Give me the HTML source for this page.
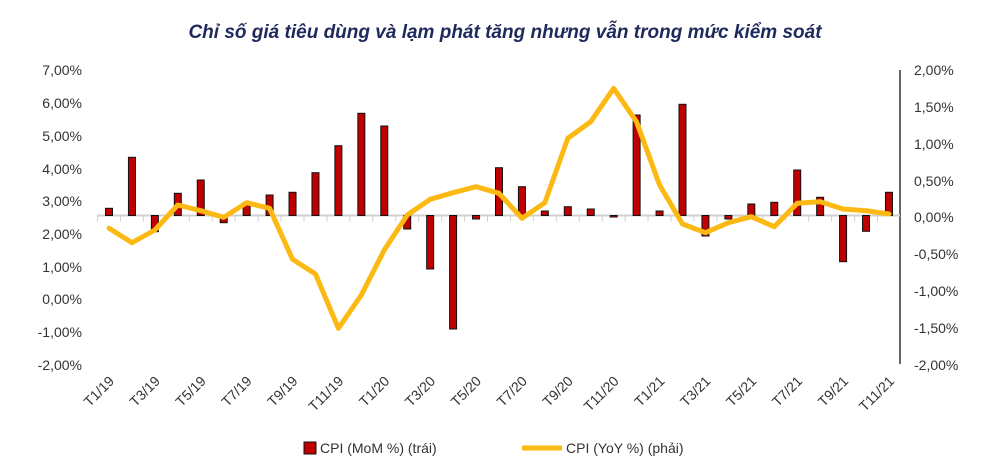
<!DOCTYPE html>
<html><head><meta charset="utf-8"><style>
body{margin:0;background:#fff;}
svg{display:block;font-family:"Liberation Sans",sans-serif;}
</style></head><body>
<svg width="1000" height="474" viewBox="0 0 1000 474">
<text x="505" y="38" text-anchor="middle" font-size="19" font-weight="bold" font-style="italic" fill="#1f2a5c">Chỉ số giá tiêu dùng và lạm phát tăng nhưng vẫn trong mức kiểm soát</text>
<g font-size="14" fill="#333" text-anchor="end">
<text x="82" y="75">7,00%</text><text x="82" y="108">6,00%</text><text x="82" y="141">5,00%</text><text x="82" y="174">4,00%</text><text x="82" y="206">3,00%</text><text x="82" y="239">2,00%</text><text x="82" y="272">1,00%</text><text x="82" y="304">0,00%</text><text x="82" y="337">-1,00%</text><text x="82" y="370">-2,00%</text>
</g>
<g font-size="14" fill="#333">
<text x="914" y="75">2,00%</text><text x="914" y="112">1,50%</text><text x="914" y="149">1,00%</text><text x="914" y="186">0,50%</text><text x="914" y="222">0,00%</text><text x="914" y="259">-0,50%</text><text x="914" y="296">-1,00%</text><text x="914" y="333">-1,50%</text><text x="914" y="370">-2,00%</text>
</g>
<line x1="900" y1="70" x2="900" y2="364" stroke="#000" stroke-width="1.2"/>
<line x1="97" y1="215.5" x2="900" y2="215.5" stroke="#d0d0d0" stroke-width="2"/>
<g id="ticks" stroke="#d0d0d0" stroke-width="1"></g>
<g id="bars" fill="#c00000" stroke="#111" stroke-width="1"></g>
<polyline id="ln" fill="none" stroke="#fdb913" stroke-width="5" stroke-linejoin="round" stroke-linecap="round"/>
<g id="xl" font-size="14" fill="#333" text-anchor="end"></g>
<rect x="304" y="442" width="12" height="12" fill="#c00000" stroke="#111" stroke-width="1"/>
<text x="320" y="453" font-size="14" fill="#333">CPI (MoM %) (trái)</text>
<line x1="522" y1="448" x2="562" y2="448" stroke="#fdb913" stroke-width="5"/>
<text x="566" y="453" font-size="14" fill="#333">CPI (YoY %) (phải)</text>
</svg>
<script>
var b=[208.3,157.3,231.7,193.3,180,222.7,202.7,195,192.3,172.7,145.7,113.3,126,229,269,329,219,167.7,186.7,211,206.7,209,217,115,211,104.3,236,219,204,202.3,170,197.3,261.7,231.3,192.3];
var l=[228.3,242.7,230,205,210.7,217.3,202.7,208.3,259.3,274,328.3,295,250,215,199.3,192.7,186.7,193.3,218.3,202.7,138.3,121.7,88.3,122,185,224,232.7,222.7,216.7,226.7,203.3,201.7,209,210.7,214];
var base=215.5,x0=109,dx=22.94,NS="http://www.w3.org/2000/svg";
var g=document.getElementById('bars'),t=document.getElementById('ticks'),xl=document.getElementById('xl'),pts=[];
for(var i=0;i<35;i++){var x=x0+i*dx;
var r=document.createElementNS(NS,'rect');var y=Math.min(b[i],base),h=Math.max(Math.abs(b[i]-base),1.5);
r.setAttribute('x',x-3.5);r.setAttribute('y',y);r.setAttribute('width',7);r.setAttribute('height',h);g.appendChild(r);
var tk=document.createElementNS(NS,'line');tk.setAttribute('x1',x-dx/2);tk.setAttribute('x2',x-dx/2);tk.setAttribute('y1',base);tk.setAttribute('y2',base+6);t.appendChild(tk);
pts.push(x+','+l[i]);
if(i%2==0){var tx=document.createElementNS(NS,'text');tx.setAttribute('transform','translate('+(x+6)+',382) rotate(-45)');
var m=(i%12)+1,yr=19+Math.floor(i/12);tx.textContent='T'+m+'/'+yr;xl.appendChild(tx);}}
document.getElementById('ln').setAttribute('points',pts.join(' '));
</script>
</body></html>
